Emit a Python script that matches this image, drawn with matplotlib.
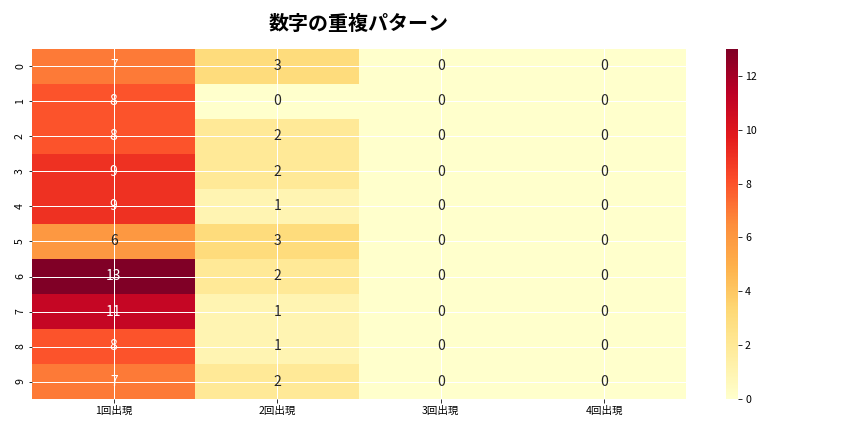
import matplotlib.pyplot as plt
import seaborn as sns
import pandas as pd

plt.rcParams['font.family'] = ['Noto Sans CJK JP', 'DejaVu Sans']

digits = [str(i) for i in range(10)]
columns = ['1回出現', '2回出現', '3回出現', '4回出現']
once = [7, 8, 8, 9, 9, 6, 13, 11, 8, 7]
twice = [3, 0, 2, 2, 1, 3, 2, 1, 1, 2]
three = [0, 0, 0, 0, 0, 0, 0, 0, 0, 0]
four = [0, 0, 0, 0, 0, 0, 0, 0, 0, 0]

df = pd.DataFrame({columns[0]: once, columns[1]: twice,
                   columns[2]: three, columns[3]: four}, index=digits)

fig = plt.figure(figsize=(12, 6), dpi=72)
ax = fig.add_axes([32 / 864, 33 / 432, 654 / 864, 350 / 432])
cax = fig.add_axes([726 / 864, 33 / 432, 12 / 864, 350 / 432])
sns.heatmap(df, annot=True, fmt='d', cmap='YlOrRd', ax=ax, cbar_ax=cax,
            annot_kws={'fontsize': 14})
ax.set_axisbelow(False)
ax.grid(True, color='white', linewidth=1)
ax.tick_params(labelsize=10.5)
cax.tick_params(labelsize=10.5)
ax.set_title('数字の重複パターン', fontsize=20, fontweight='bold', pad=19)
fig.savefig('out.png', dpi=72)
